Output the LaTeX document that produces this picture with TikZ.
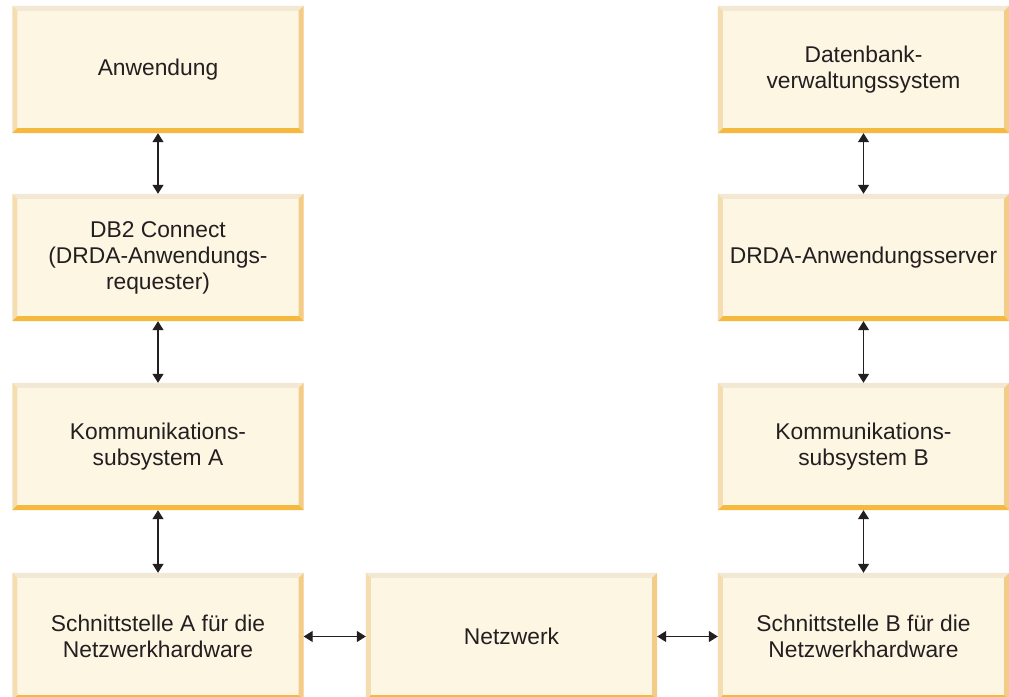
\documentclass[tikz,border=0pt]{standalone}
\usepackage{fontspec}
\setmainfont{Liberation Sans}
\usetikzlibrary{arrows.meta}
\definecolor{boxfill}{HTML}{FDF6E3}
\definecolor{bevtop}{HTML}{F3E8D3}
\definecolor{bevleft}{HTML}{F5DDB2}
\definecolor{bevright}{HTML}{F3CC88}
\definecolor{bevbot}{HTML}{F6B940}
\definecolor{ink}{HTML}{231F20}
\tikzset{
  x=1pt,y=1pt,
  blk/.style={rectangle, inner sep=0pt, minimum width=291pt, minimum height=127pt,
    fill=boxfill, text=ink, align=center,
    font=\fontsize{22.8}{26}\selectfont},
  arr/.style={draw=ink, line width=1.3pt, {Triangle[length=9pt,width=11pt]}-{Triangle[length=9pt,width=11pt]}},
}
\newcommand{\bevelbox}[1]{%
  \fill[bevtop] (#1.north west) -- (#1.north east) -- ([shift={(-5pt,-5pt)}]#1.north east) -- ([shift={(5pt,-5pt)}]#1.north west) -- cycle;
  \fill[bevleft] (#1.north west) -- ([shift={(5pt,-5pt)}]#1.north west) -- ([shift={(5pt,5pt)}]#1.south west) -- (#1.south west) -- cycle;
  \fill[bevright] (#1.north east) -- ([shift={(-5pt,-5pt)}]#1.north east) -- ([shift={(-5pt,5pt)}]#1.south east) -- (#1.south east) -- cycle;
  \fill[bevbot] (#1.south west) -- ([shift={(5pt,5pt)}]#1.south west) -- ([shift={(-5pt,5pt)}]#1.south east) -- (#1.south east) -- cycle;
}
\begin{document}
\begin{tikzpicture}
\clip (0,0) rectangle (1009,696);
\fill[white] (0,0) rectangle (1009,696);
% left column
\node[blk] (app) at (158,626.5) {Anwendung};
\node[blk] (db2) at (158,438.5) {DB2 Connect\\(DRDA-Anwendungs-\\requester)};
\node[blk] (kA) at (158,249.5) {Kommunikations-\\subsystem A};
\node[blk] (sA) at (158,59.5) {Schnittstelle A für die\\Netzwerkhardware};
% middle
\node[blk] (net) at (511.5,59.5) {Netzwerk};
% right column
\node[blk] (dbms) at (863.5,626.5) {Datenbank-\\verwaltungssystem};
\node[blk] (srv) at (863.5,438.5) {DRDA-Anwendungsserver};
\node[blk] (kB) at (863.5,249.5) {Kommunikations-\\subsystem B};
\node[blk] (sB) at (863.5,59.5) {Schnittstelle B für die\\Netzwerkhardware};
\foreach \n in {app,db2,kA,sA,net,dbms,srv,kB,sB} {\bevelbox{\n}}
% connectors
\draw[arr] (app.south) -- (db2.north);
\draw[arr] (db2.south) -- (kA.north);
\draw[arr] (kA.south) -- (sA.north);
\draw[arr] (dbms.south) -- (srv.north);
\draw[arr] (srv.south) -- (kB.north);
\draw[arr] (kB.south) -- (sB.north);
\draw[arr] (sA.east) -- (net.west);
\draw[arr] (net.east) -- (sB.west);
\end{tikzpicture}
\end{document}
